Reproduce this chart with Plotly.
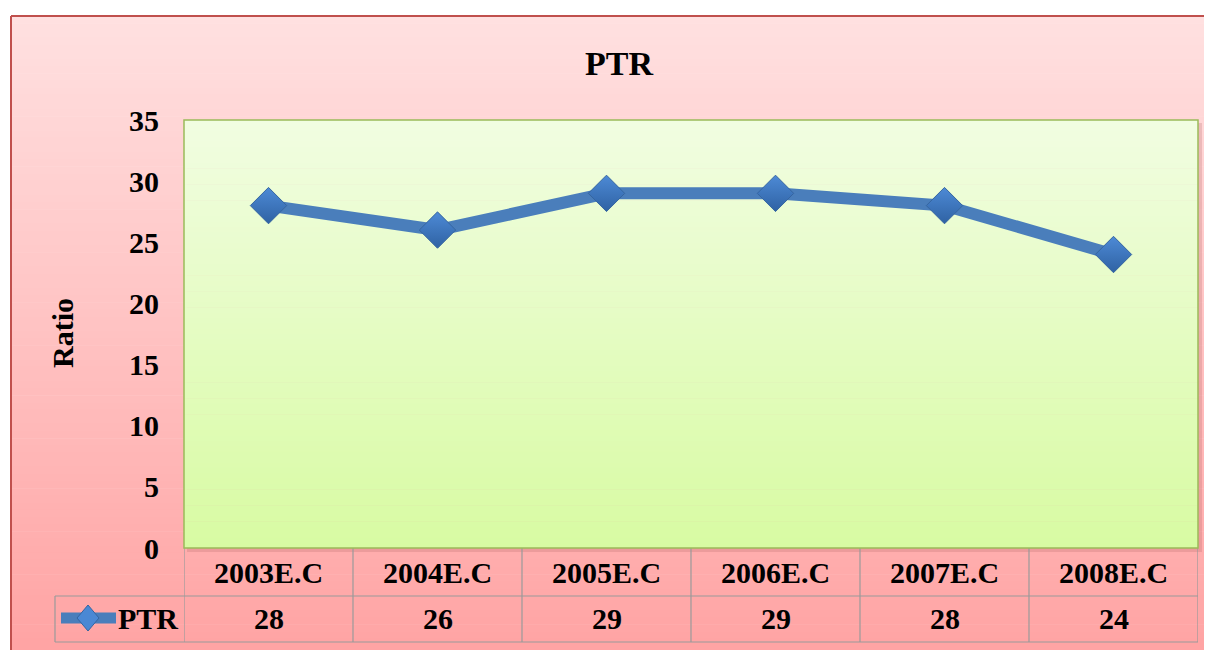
import plotly.graph_objects as go

# ---- data ----
categories = ["2003E.C", "2004E.C", "2005E.C", "2006E.C", "2007E.C", "2008E.C"]
ptr_values = [28, 26, 29, 29, 28, 24]
y_ticks = [0, 5, 10, 15, 20, 25, 30, 35]
series_name = "PTR"
chart_title = "PTR"
y_title = "Ratio"

OFF = 8  # page body margin offset
W, H = 1212 - OFF, 650 - OFF
# reference pixel positions of the plot area
RPL, RPR, RPT, RPB = 184, 1198, 120, 548
FONT = "Liberation Serif, Times New Roman, serif"
LINE_BLUE = "#4a7ebb"


def px(x):
    return (x - RPL) / (RPR - RPL)


def py(y):
    return (RPB - y) / (RPB - RPT)


def lerp(c1, c2, t):
    return "rgb(%d,%d,%d)" % tuple(round(a + (b - a) * t) for a, b in zip(c1, c2))


shapes = []
# outer chart area gradient
N = 90
top, bot = 16, 660
for i in range(N):
    y0 = top + (bot - top) * i / N
    y1 = top + (bot - top) * (i + 1) / N + 0.6
    shapes.append(dict(type="rect", xref="paper", yref="paper",
                       x0=px(11), x1=px(1230), y0=py(y0), y1=py(y1),
                       fillcolor=lerp((255, 224, 224), (255, 163, 163), i / (N - 1)),
                       line_width=0, layer="below"))
# outer border (left + top visible)
shapes.append(dict(type="line", xref="paper", yref="paper",
                   x0=px(11), x1=px(11), y0=py(16), y1=py(670),
                   line=dict(color="#c0504d", width=2), layer="below"))
shapes.append(dict(type="line", xref="paper", yref="paper",
                   x0=px(11), x1=px(1240), y0=py(16), y1=py(16),
                   line=dict(color="#c0504d", width=2), layer="below"))
# plot area shadow
shapes.append(dict(type="rect", xref="paper", yref="paper",
                   x0=px(RPL + 3), x1=px(RPR + 4), y0=py(RPT + 3), y1=py(RPB + 4),
                   fillcolor="rgba(170,90,90,0.22)", line_width=0, layer="below"))
# plot area gradient
N2 = 80
for i in range(N2):
    y0 = RPT + (RPB - RPT) * i / N2
    y1 = RPT + (RPB - RPT) * (i + 1) / N2 + 0.6
    shapes.append(dict(type="rect", xref="paper", yref="paper",
                       x0=0, x1=1, y0=py(y0), y1=py(min(y1, RPB)),
                       fillcolor=lerp((241, 253, 225), (216, 251, 163), i / (N2 - 1)),
                       line_width=0, layer="below"))

# data table grid
GRID = "#9a9a9a"
row1_bot, row2_bot = 596, 642
for k in range(len(categories) + 1):
    shapes.append(dict(type="line", xref="x", yref="paper",
                       x0=k - 0.5, x1=k - 0.5, y0=py(RPB), y1=py(row2_bot),
                       line=dict(color=GRID, width=1.2)))
shapes.append(dict(type="line", xref="paper", yref="paper",
                   x0=px(55), x1=px(RPR), y0=py(row1_bot), y1=py(row1_bot),
                   line=dict(color=GRID, width=1.2)))
shapes.append(dict(type="line", xref="paper", yref="paper",
                   x0=px(55), x1=px(RPR), y0=py(row2_bot), y1=py(row2_bot),
                   line=dict(color=GRID, width=1.2)))
shapes.append(dict(type="line", xref="paper", yref="paper",
                   x0=px(55), x1=px(55), y0=py(row1_bot), y1=py(row2_bot),
                   line=dict(color=GRID, width=1.2)))
# plot area border
shapes.append(dict(type="rect", xref="paper", yref="paper",
                   x0=0, x1=1, y0=0, y1=1,
                   line=dict(color="#9bbb59", width=1.5)))

# legend key (line + diamond) in table
ly = 618
shapes.append(dict(type="line", xref="paper", yref="paper",
                   x0=px(61), x1=px(116), y0=py(ly), y1=py(ly),
                   line=dict(color=LINE_BLUE, width=11)))
cx, hw, hh = 88, 11, 13
shapes.append(dict(type="path", xref="paper", yref="paper",
                   path="M {} {} L {} {} L {} {} L {} {} Z".format(
                       px(cx), py(ly - hh), px(cx + hw), py(ly),
                       px(cx), py(ly + hh), px(cx - hw), py(ly)),
                   fillcolor="#4a88d4", line=dict(color="#3565a0", width=1)))

annotations = [
    dict(text=chart_title, xref="paper", yref="paper", x=px(619), y=py(63),
         showarrow=False, font=dict(family=FONT, size=34, color="black", weight="bold"),
         xanchor="center", yanchor="middle"),
    dict(text=y_title, xref="paper", yref="paper", x=px(62), y=py(333),
         showarrow=False, textangle=-90,
         font=dict(family=FONT, size=30, color="black", weight="bold"),
         xanchor="center", yanchor="middle"),
    dict(text=series_name, xref="paper", yref="paper", x=px(148), y=py(ly),
         showarrow=False, font=dict(family=FONT, size=30, color="black", weight="bold"),
         xanchor="center", yanchor="middle"),
]
for c, v in zip(categories, ptr_values):
    annotations.append(dict(text=str(v), xref="x", yref="paper", x=c, y=py(ly),
                            showarrow=False,
                            font=dict(family=FONT, size=30, color="black", weight="bold"),
                            xanchor="center", yanchor="middle"))

fig = go.Figure()
fig.add_trace(go.Scatter(
    x=categories, y=ptr_values, name=series_name, mode="lines+markers",
    line=dict(color=LINE_BLUE, width=12),
    marker=dict(symbol="diamond", size=28, color="#4d8ad6",
                gradient=dict(type="vertical", color="#2f62a3"),
                line=dict(color="#3565a0", width=1)),
    showlegend=False, hoverinfo="x+y",
))

fig.update_layout(
    width=W, height=H,
    margin=dict(l=RPL - OFF, r=W - (RPR - OFF), t=RPT - OFF, b=H - (RPB - OFF), pad=0),
    paper_bgcolor="white", plot_bgcolor="rgba(0,0,0,0)",
    shapes=shapes, annotations=annotations, showlegend=False,
    font=dict(family=FONT, color="black"),
)
fig.update_xaxes(type="category", range=[-0.5, len(categories) - 0.5],
                 showgrid=False, zeroline=False, showline=False, ticks="",
                 tickfont=dict(family=FONT, size=30, color="black", weight="bold"),
                 ticklabelstandoff=4, fixedrange=True)
fig.update_yaxes(range=[0, 35], tickvals=y_ticks, showgrid=False, zeroline=False,
                 showline=False, ticks="",
                 tickfont=dict(family=FONT, size=30, color="black", weight="bold"),
                 ticklabelstandoff=24, fixedrange=True)

fig.write_html("out.html")
